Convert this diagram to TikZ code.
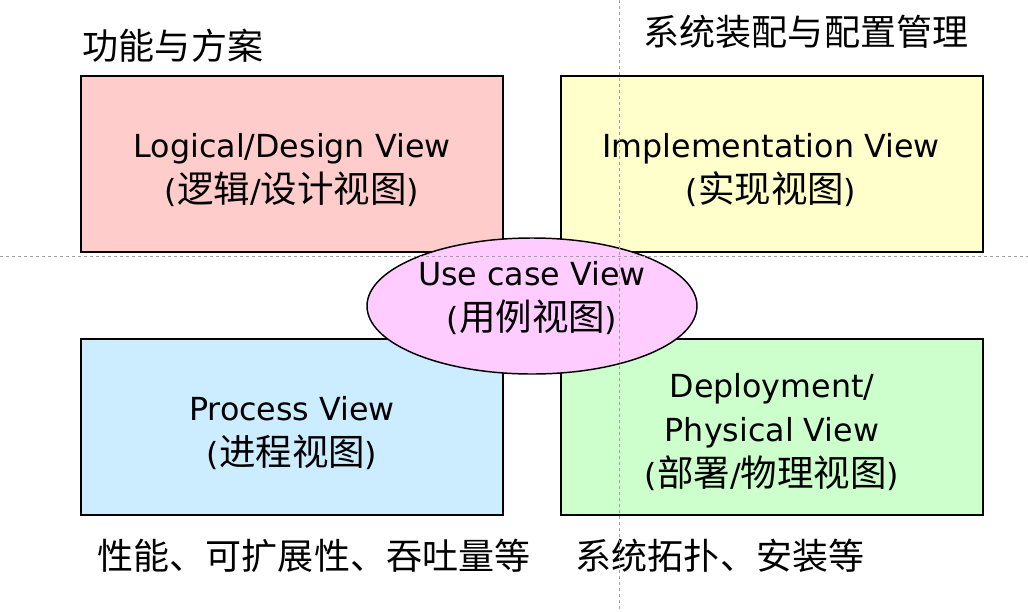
\documentclass[tikz,border=0pt]{standalone}
\usepackage{fontspec}
\setmainfont{DejaVu Sans}
\newfontfamily\cjk[Scale=1.15]{Noto Sans CJK SC}
\newcommand\zh[1]{{\cjk #1}}
\usetikzlibrary{shapes.geometric}
\definecolor{logicpink}{HTML}{FFCCCC}
\definecolor{implyellow}{HTML}{FFFFCC}
\definecolor{procblue}{HTML}{CCECFF}
\definecolor{deploygreen}{HTML}{CCFFCC}
\definecolor{usecasepink}{HTML}{FFCCFF}
\definecolor{guidegray}{HTML}{A0A0A0}
\begin{document}
\begin{tikzpicture}[x=0.75pt,y=-0.75pt,
        viewbox/.style={draw,line width=1.5pt,minimum width=316.5pt,minimum height=132pt,inner sep=0pt},
        viewtext/.style={align=center,font=\fontsize{23.8}{33.5}\selectfont},
        note/.style={font=\cjk\fontsize{23.5}{28}\selectfont}]
    \useasboundingbox (0,0) rectangle (1028,611);
    % the four views
    \node[viewbox,fill=logicpink] (logical) at (292,164) {};
    \node[viewbox,fill=implyellow] (impl) at (772,164) {};
    \node[viewbox,fill=procblue] (process) at (292,427) {};
    \node[viewbox,fill=deploygreen] (deploy) at (772,427) {};
    \node[viewtext] (logicaltext) at (292,170) {Logical/Design View\\(\zh{逻辑}/\zh{设计视图})};
    \node[viewtext] (impltext) at (771,170) {Implementation View\\(\zh{实现视图})};
    \node[viewtext] (processtext) at (292,433) {Process View\\(\zh{进程视图})};
    \node[viewtext] (deploytext) at (772,432) {Deployment/\\Physical View\\(\zh{部署}/\zh{物理视图})};
    % use case in the middle
    \node[draw,ellipse,line width=1.1pt,fill=usecasepink,minimum width=247.5pt,minimum height=102pt,inner sep=0pt] (usecase) at (532,306) {};
    \node[viewtext] (usecasetext) at (532,298) {Use case View\\(\zh{用例视图})};
    % notes
    \node[note] (funcnote) at (173,46) {功能与方案};
    \node[note] (implnote) at (806,32) {系统装配与配置管理};
    \node[note] (procnote) at (314,556) {性能、可扩展性、吞吐量等};
    \node[note] (deploynote) at (720,556) {系统拓扑、安装等};
    % guides
    \draw[guidegray,line width=0.5pt,dash pattern=on 2.5pt off 2pt] (619,0) -- (619,611);
    \draw[guidegray,line width=0.5pt,dash pattern=on 2.5pt off 2pt] (0,256) -- (1028,256);
\end{tikzpicture}
\end{document}
